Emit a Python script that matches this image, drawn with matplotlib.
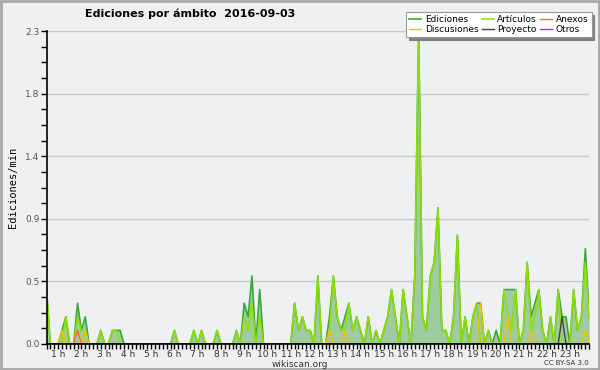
import numpy as np
import matplotlib
matplotlib.use("Agg")
import matplotlib.pyplot as plt
from matplotlib.patches import Rectangle

# 10-minute bins, values in edits/min
ediciones = [
    0.4, 0, 0, 0, 0.1, 0.2, 0, 0, 0.3, 0.1, 0.2, 0,
    0, 0, 0.1, 0, 0, 0.1, 0.1, 0.1, 0, 0, 0, 0,
    0, 0, 0, 0, 0, 0, 0, 0, 0, 0.1, 0, 0,
    0, 0, 0.1, 0, 0.1, 0, 0, 0, 0.1, 0, 0, 0,
    0, 0.1, 0, 0.3, 0.2, 0.5, 0, 0.4, 0, 0, 0, 0,
    0, 0, 0, 0, 0.3, 0.1, 0.2, 0.1, 0.1, 0, 0.5, 0,
    0, 0.2, 0.5, 0.2, 0.1, 0.2, 0.3, 0.1, 0.2, 0.1, 0, 0.2,
    0, 0.1, 0, 0.1, 0.2, 0.4, 0.2, 0, 0.4, 0.2, 0, 0.5,
    2.3, 0.2, 0.1, 0.5, 0.6, 1.0, 0.1, 0.1, 0, 0.2, 0.8, 0,
    0.2, 0, 0.2, 0.3, 0.3, 0, 0.1, 0, 0.1, 0, 0.4, 0.4,
    0.4, 0.4, 0, 0.1, 0.6, 0.2, 0.3, 0.4, 0.1, 0, 0.2, 0,
    0.4, 0.2, 0.2, 0, 0.4, 0.1, 0.2, 0.7, 0.2,
]
articulos = [
    0.4, 0, 0, 0, 0, 0.2, 0, 0, 0.2, 0.1, 0.1, 0,
    0, 0, 0.1, 0, 0, 0.1, 0.1, 0, 0, 0, 0, 0,
    0, 0, 0, 0, 0, 0, 0, 0, 0, 0.1, 0, 0,
    0, 0, 0.1, 0, 0.1, 0, 0, 0, 0.1, 0, 0, 0,
    0, 0.1, 0, 0.2, 0.1, 0.3, 0, 0.2, 0, 0, 0, 0,
    0, 0, 0, 0, 0.3, 0.1, 0.2, 0.1, 0.1, 0, 0.5, 0,
    0, 0.1, 0.5, 0.2, 0.1, 0.1, 0.3, 0.1, 0.2, 0.1, 0, 0.2,
    0, 0.1, 0, 0.1, 0.2, 0.4, 0.2, 0, 0.4, 0.2, 0, 0.5,
    2.3, 0.2, 0.1, 0.5, 0.6, 1.0, 0.1, 0.1, 0, 0.2, 0.8, 0,
    0.2, 0, 0.2, 0.3, 0, 0, 0.1, 0, 0, 0, 0.4, 0.2,
    0.1, 0.4, 0, 0.1, 0.6, 0.1, 0.2, 0.4, 0.1, 0, 0.2, 0,
    0.4, 0, 0, 0, 0.4, 0.1, 0.2, 0.6, 0.2,
]
# sparse series: bin -> value
discusiones = {4: 0.1, 10: 0.1, 73: 0.1, 77: 0.1, 112: 0.3, 119: 0.2, 125: 0.1, 139: 0.1}
anexos = {8: 0.1}
proyecto = {133: 0.2}
otros = {}

hour_labels = [f"{h} h" for h in range(1, 24)]
y_ticks = [0, 0.46, 0.92, 1.38, 1.84, 2.3]
y_labels = ["0.0", "0.5", "0.9", "1.4", "1.8", "2.3"]

n = len(ediciones)
x = np.arange(n)


def dense(d):
    arr = np.zeros(n)
    for k, v in d.items():
        arr[k] = v
    return arr


bg = "#eff0f1"
fig = plt.figure(figsize=(6, 3.7), dpi=100, facecolor=bg)
ax = fig.add_axes([0.0775, 0.0703, 0.9045, 0.8457], facecolor=bg)

ax.fill_between(x, ediciones, color="#9fcb9f", lw=0, zorder=1)
l_ed, = ax.plot(x, ediciones, color="#3aa83a", lw=1.2, zorder=3, label="Ediciones")
l_art, = ax.plot(x, articulos, color="#8ee000", lw=1.1, zorder=4, label="Artículos")
l_dis, = ax.plot(x, dense(discusiones), color="#f2c200", lw=1, zorder=5, label="Discusiones")
l_anx, = ax.plot(x, dense(anexos), color="#ff6a30", lw=1, zorder=5, label="Anexos")
l_pro, = ax.plot(x, dense(proyecto), color="#444444", lw=1, zorder=5, label="Proyecto")
l_otr, = ax.plot(x, dense(otros), color="#9933ee", lw=1, zorder=2, label="Otros")

ax.set_xlim(0, n - 1)
ax.set_ylim(0, 2.3)

ax.set_yticks(y_ticks)
ax.set_yticklabels(y_labels)
ax.set_yticks(np.arange(0, 2.3001, 0.115), minor=True)
ax.set_xticks([6 * h - 3 for h in range(1, 24)])
ax.set_xticklabels(hour_labels)
ax.set_xticks(x, minor=True)
ax.tick_params(axis="x", which="both", length=3.5, width=1, color="black",
               labelsize=6.5, labelcolor="#333333", pad=0.5)
ax.tick_params(axis="y", which="both", length=4, width=1, color="black",
               labelsize=6.5, labelcolor="#555555", pad=1)

ax.grid(axis="y", which="major", color="#c8c8c8", lw=1)
ax.set_axisbelow(True)
for s in ["top", "right"]:
    ax.spines[s].set_visible(False)
for s in ["left", "bottom"]:
    ax.spines[s].set_linewidth(1.2)
    ax.spines[s].set_zorder(10)

ax.set_ylabel("Ediciones/min", family="DejaVu Sans Mono", fontsize=7.5, labelpad=5)

fig.text(0.1417, 0.962, "Ediciones por ámbito  2016-09-03", fontsize=8,
         fontweight="bold", va="center", ha="left")
fig.text(0.5, 0.014, "wikiscan.org", fontsize=6.5, color="#333333", ha="center", va="center")
fig.text(0.982, 0.018, "CC BY-SA 3.0", fontsize=5, color="#333333", ha="right", va="center")

leg = fig.legend([l_ed, l_dis, l_art, l_pro, l_anx, l_otr],
                 ["Ediciones", "Discusiones", "Artículos", "Proyecto", "Anexos", "Otros"],
                 ncol=3, loc="upper right", bbox_to_anchor=(0.986, 0.968),
                 fontsize=6.5, frameon=True, fancybox=False, borderaxespad=0,
                 shadow={"color": "#808080", "alpha": 1},
                 handlelength=1.3, handletextpad=0.4, columnspacing=0.4,
                 labelspacing=0.1, borderpad=0.35)
leg.get_frame().set_edgecolor("#999999")
leg.get_frame().set_linewidth(0.8)

fig.patches.append(Rectangle((0.002, 0.003), 0.996, 0.994, transform=fig.transFigure,
                             fill=False, edgecolor="#a8a8a8", lw=2))

fig.savefig("out.png", dpi=100, facecolor=bg)
